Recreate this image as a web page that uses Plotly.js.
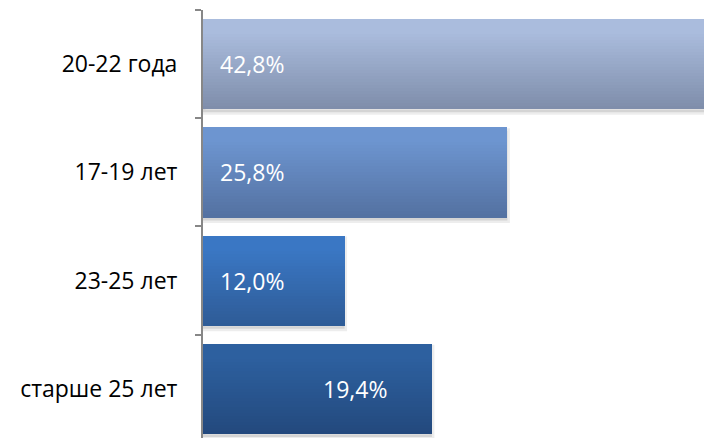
<!DOCTYPE html>
<html>
<head>
<meta charset="utf-8">
<script src="https://cdn.plot.ly/plotly-3.0.1.min.js"></script>
<style>
  html, body { margin: 0; padding: 0; background: #ffffff; }
  #chart { width: 704px; height: 438px; }
</style>
</head>
<body>
<div id="chart"></div>
<script>
// ---- data ----
const categories = ['20-22 года', '17-19 лет', '23-25 лет', 'старше 25 лет'];
const values = [42.8, 25.8, 12.0, 19.4];
const valueLabels = ['42,8%', '25,8%', '12,0%', '19,4%'];
const labelX = [1.3, 1.3, 1.3, 10.0];
const topColors = [[170, 188, 221], [109, 149, 208], [58, 119, 196], [45, 96, 159]];
const bottomColors = [[126, 141, 170], [83, 113, 161], [46, 91, 150], [35, 73, 125]];

// ---- styling ----
const barWidth = 0.83;
const strips = 30;
const FONT = '"Open Sans", "Noto Sans", sans-serif';

function mix(a, b, t) {
  const c = a.map((v, i) => Math.round(v + (b[i] - v) * t));
  return 'rgb(' + c.join(',') + ')';
}

const traces = [];
// soft shadow
traces.push({
  type: 'bar', orientation: 'h', x: values, y: categories,
  width: barWidth, offset: -barWidth / 2 + 0.03,
  marker: { color: 'rgba(0,0,0,0.10)', line: { color: 'rgba(0,0,0,0.07)', width: 5 } },
  hoverinfo: 'skip', showlegend: false
});
// vertical gradient strips
const sw = barWidth / strips;
for (let k = 0; k < strips; k++) {
  const t = (k + 0.5) / strips;
  const e = Math.max(0, (t - 0.15) / 0.85);
  traces.push({
    type: 'bar', orientation: 'h', x: values, y: categories,
    width: sw * 1.15, offset: -barWidth / 2 + k * sw,
    marker: { color: categories.map((_, i) => mix(topColors[i], bottomColors[i], e)), line: { width: 0 } },
    hoverinfo: 'skip', showlegend: false
  });
}

const annotations = categories.map((c, i) => ({
  x: labelX[i], y: c, xref: 'x', yref: 'y',
  text: valueLabels[i], showarrow: false, xanchor: 'left', yanchor: 'middle',
  font: { family: FONT, size: 23, color: '#ffffff' }
}));

const layout = {
  width: 704, height: 438,
  margin: { l: 203, r: 0, t: 10, b: 0, pad: 0 },
  paper_bgcolor: '#ffffff', plot_bgcolor: '#ffffff',
  barmode: 'overlay', bargap: 0,
  showlegend: false,
  xaxis: { range: [0, 42.46], visible: false, fixedrange: true },
  yaxis: {
    type: 'category', categoryorder: 'array', categoryarray: categories,
    range: [3.454, -0.5],
    showline: true, linecolor: '#878787', linewidth: 2,
    ticks: 'outside', ticklen: 6, tickwidth: 2, tickcolor: '#878787',
    tickson: 'boundaries', showgrid: false, zeroline: false,
    ticklabelstandoff: 19,
    tickfont: { family: FONT, size: 23, color: '#000000' }
  },
  annotations: annotations
};

Plotly.newPlot('chart', traces, layout, { staticPlot: true, displayModeBar: false });
</script>
</body>
</html>
